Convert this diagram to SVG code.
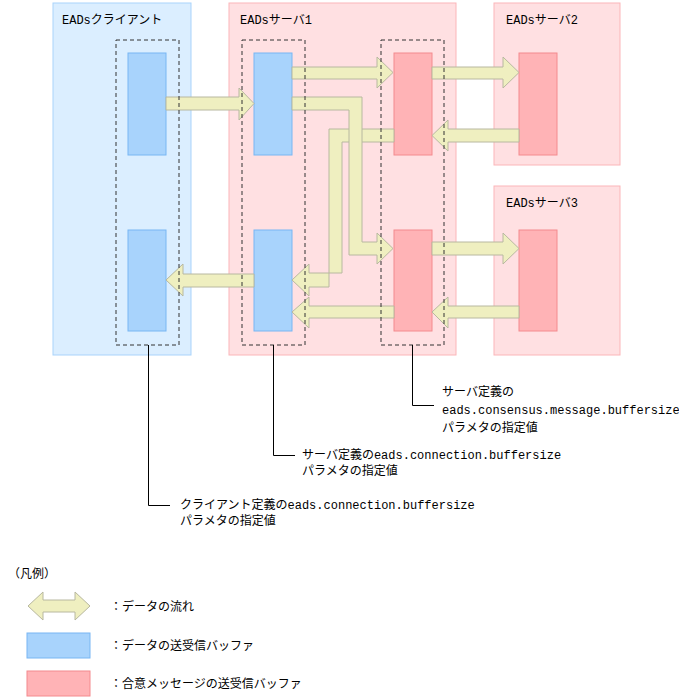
<svg xmlns="http://www.w3.org/2000/svg" width="679" height="700" viewBox="0 0 679 700">
<style>
text{font-family:"Liberation Mono","Noto Sans CJK JP",monospace;font-size:12px;fill:#000}
.cl{fill:#dbeeff;stroke:#a9d3fb}
.sv{fill:#ffe0e2;stroke:#fbb6b9}
.bb{fill:#a8d3fc;stroke:#78b6f3}
.rb{fill:#ffb3b6;stroke:#f48a8e}
.dz{fill:none;stroke:#333;stroke-dasharray:4,3}
.ar{fill:#efefc0;stroke:#b8b8a0}
.ld{fill:none;stroke:#000}
</style>
<rect width="679" height="700" fill="#fff"/>
<g id="client"><rect class="cl" x="53" y="3" width="138" height="352"/><text x="62" y="24">EADsクライアント</text></g>
<g id="server1"><rect class="sv" x="229" y="3" width="227" height="352"/><text x="240" y="24">EADsサーバ1</text></g>
<g id="server2"><rect class="sv" x="494" y="3" width="126" height="162"/><text x="506" y="24">EADsサーバ2</text></g>
<g id="server3"><rect class="sv" x="494" y="186" width="126" height="169"/><text x="506" y="207">EADsサーバ3</text></g>
<g id="buffers">
<rect class="bb" x="128" y="53" width="38" height="102"/>
<rect class="bb" x="128" y="230" width="38" height="101"/>
<rect class="bb" x="254" y="53" width="38" height="102"/>
<rect class="bb" x="254" y="230" width="38" height="101"/>
<rect class="rb" x="394" y="53" width="38" height="102"/>
<rect class="rb" x="394" y="230" width="38" height="101"/>
<rect class="rb" x="519" y="53" width="38" height="102"/>
<rect class="rb" x="519" y="230" width="38" height="101"/>
</g>
<g id="connectors">
<polygon class="ar" points="166,97 239,97 239,88 254,103.5 239,120 239,110 166,110"/>
<polygon class="ar" points="292,67 377,67 377,57 393,72.5 377,88 377,79 292,79"/>
<polygon class="ar" points="432,67 503,67 503,57 519,72.5 503,88 503,79 432,79"/>
<polygon class="ar" points="519,129 448,129 448,120 432,135.5 448,151 448,142 519,142"/>
<polygon class="ar" points="394,129 329,129 329,287 309,287 309,296 292,280 309,264 309,273 342,273 342,142 394,142"/>
<polygon class="ar" points="292,97 362,97 362,242 377,242 377,233 393,248.5 377,264 377,255 349,255 349,110 292,110"/>
<polygon class="ar" points="432,242 503,242 503,233 519,248.5 503,264 503,255 432,255"/>
<polygon class="ar" points="254,274 183,274 183,264 166,280 183,296 183,287 254,287"/>
<polygon class="ar" points="394,306 309,306 309,297 292,312 309,328 309,318 394,318"/>
<polygon class="ar" points="519,306 448,306 448,297 432,312 448,328 448,318 519,318"/>
<rect class="dz" x="116" y="40" width="63" height="305"/>
<rect class="dz" x="242" y="40" width="63" height="305"/>
<rect class="dz" x="381" y="40" width="63" height="305"/>
<polyline class="ld" points="148.5,345 148.5,505.5 170,505.5"/>
<polyline class="ld" points="273.5,345 273.5,455.5 295,455.5"/>
<polyline class="ld" points="412.5,345 412.5,405.5 434,405.5"/>
</g>
<g id="labels">
<text x="442" y="396">サーバ定義の</text>
<text x="442" y="414">eads.consensus.message.buffersize</text>
<text x="442" y="432">パラメタの指定値</text>
<text x="302" y="459">サーバ定義のeads.connection.buffersize</text>
<text x="302" y="475">パラメタの指定値</text>
<text x="180" y="509">クライアント定義のeads.connection.buffersize</text>
<text x="180" y="525">パラメタの指定値</text>
</g>
<g id="legend">
<text x="8" y="578">（凡例）</text>
<polygon class="ar" points="28,606 43,592 43,600 75,600 75,592 90,606 75,620 75,612 43,612 43,620"/>
<text x="110" y="611">：データの流れ</text>
<rect class="bb" x="27" y="633" width="63" height="25"/>
<text x="110" y="650">：データの送受信バッファ</text>
<rect class="rb" x="27" y="671" width="63" height="25"/>
<text x="110" y="688">：合意メッセージの送受信バッファ</text>
</g>
</svg>
